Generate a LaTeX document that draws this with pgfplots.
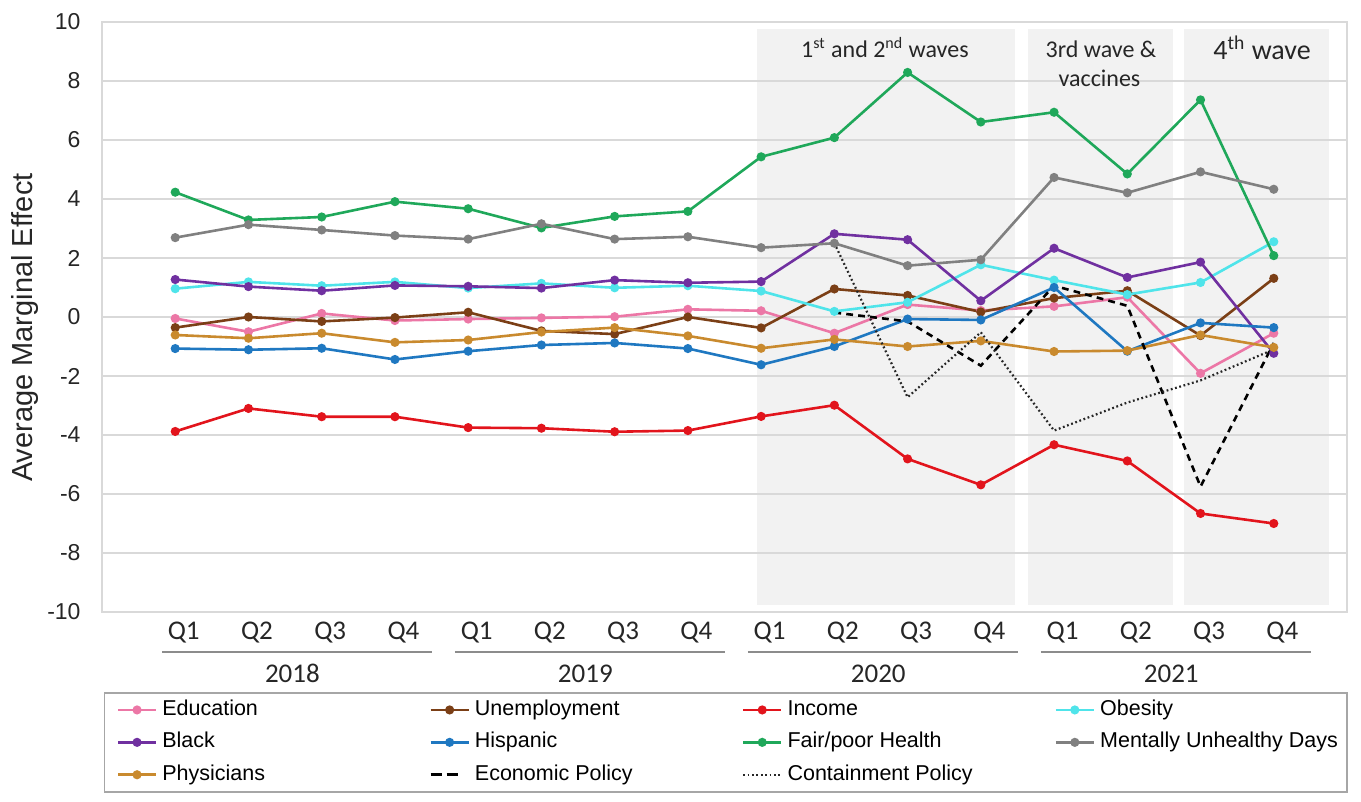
\documentclass[border=0pt]{standalone}
\usepackage{fontspec}
\setmainfont{Liberation Sans}
\newfontfamily\calibri{Carlito}
\usepackage{pgfplots}
\pgfplotsset{compat=1.18}

\definecolor{cEdu}{HTML}{EC77A6}
\definecolor{cUnemp}{HTML}{7B3F16}
\definecolor{cInc}{HTML}{E2141C}
\definecolor{cObes}{HTML}{4FE4EA}
\definecolor{cBlack}{HTML}{7030A0}
\definecolor{cHisp}{HTML}{1F78C1}
\definecolor{cFair}{HTML}{1FA85A}
\definecolor{cMent}{HTML}{808080}
\definecolor{cPhys}{HTML}{C98A2E}
\definecolor{cgrid}{HTML}{D9D9D9}
\definecolor{cshade}{HTML}{F2F2F2}

\begin{document}
\begin{tikzpicture}
\begin{axis}[
  set layers,
  scale only axis,
  width=622.5pt, height=295pt,
  xmin=-1, xmax=16, ymin=-10, ymax=10,
  clip=false,
  axis line style={cgrid, line width=0.75pt},
  ymajorgrids,
  grid style={cgrid, line width=0.75pt},
  major tick length=0pt,
  ytick={-10,-8,...,10},
  yticklabels={-10,-8,-6,-4,-2,0,2,4,6,8,10},
  yticklabel style={anchor=east, xshift=-7.2pt, text=black!85,
    font=\fontsize{11.5}{13}\selectfont},
  xtick={0,...,15},
  xticklabels={Q1,Q2,Q3,Q4,Q1,Q2,Q3,Q4,Q1,Q2,Q3,Q4,Q1,Q2,Q3,Q4},
  xticklabel style={anchor=base, yshift=-14pt, xshift=4.25pt, text=black!85,
    font=\calibri\fontsize{13.5}{15}\selectfont},
  ylabel={Average Marginal Effect},
  ylabel style={at={(axis description cs:-0.0618,0.482)}, anchor=center,
    text=black!85, font=\fontsize{14.5}{16}\selectfont},
  legend columns=4,
  legend cell align=left,
  legend style={at={(0.0016,-0.1356)}, anchor=north west,
    draw=black!35, line width=0.75pt,
    font=\fontsize{10.75}{12}\selectfont,
    inner xsep=6pt, inner ysep=0.5pt, row sep=0pt,
    nodes={inner xsep=2.5pt, inner ysep=3.1pt, text height=7.8pt, text depth=2.2pt}},
  legend image code/.code={\draw[mark repeat=2, mark phase=2]
    plot coordinates {(0pt,0pt)(9.5pt,0pt)(19pt,0pt)};},
  every axis plot/.append style={line width=1.3pt, mark=*, mark size=1.6pt},
]

\begin{pgfonlayer}{axis background}
  \fill[cshade] (axis cs:7.94,-9.76) rectangle (axis cs:11.46,9.76);
  \fill[cshade] (axis cs:11.64,-9.76) rectangle (axis cs:13.63,9.76);
  \fill[cshade] (axis cs:13.77,-9.76) rectangle (axis cs:15.76,9.76);
\end{pgfonlayer}

% Education
\addplot[cEdu] coordinates {
 (0,-0.05)(1,-0.50)(2,0.12)(3,-0.12)(4,-0.07)(5,-0.03)(6,0.01)(7,0.26)
 (8,0.21)(9,-0.55)(10,0.42)(11,0.22)(12,0.36)(13,0.67)(14,-1.91)(15,-0.55)};
% Unemployment
\addplot[cUnemp] coordinates {
 (0,-0.36)(1,0.00)(2,-0.15)(3,-0.02)(4,0.16)(5,-0.47)(6,-0.58)(7,0.00)
 (8,-0.37)(9,0.95)(10,0.73)(11,0.17)(12,0.64)(13,0.89)(14,-0.63)(15,1.31)};
% Income
\addplot[cInc] coordinates {
 (0,-3.88)(1,-3.10)(2,-3.38)(3,-3.38)(4,-3.75)(5,-3.77)(6,-3.89)(7,-3.85)
 (8,-3.37)(9,-2.99)(10,-4.81)(11,-5.69)(12,-4.33)(13,-4.88)(14,-6.66)(15,-7.00)};
% Obesity
\addplot[cObes] coordinates {
 (0,0.96)(1,1.19)(2,1.06)(3,1.19)(4,0.98)(5,1.14)(6,0.99)(7,1.06)
 (8,0.88)(9,0.19)(10,0.50)(11,1.77)(12,1.25)(13,0.76)(14,1.17)(15,2.55)};
% Black
\addplot[cBlack] coordinates {
 (0,1.27)(1,1.03)(2,0.89)(3,1.07)(4,1.04)(5,0.98)(6,1.25)(7,1.16)
 (8,1.20)(9,2.82)(10,2.62)(11,0.55)(12,2.33)(13,1.34)(14,1.86)(15,-1.23)};
% Hispanic
\addplot[cHisp] coordinates {
 (0,-1.07)(1,-1.11)(2,-1.06)(3,-1.44)(4,-1.16)(5,-0.95)(6,-0.88)(7,-1.07)
 (8,-1.62)(9,-1.00)(10,-0.07)(11,-0.10)(12,1.00)(13,-1.16)(14,-0.20)(15,-0.36)};
% Fair/poor Health
\addplot[cFair] coordinates {
 (0,4.23)(1,3.29)(2,3.39)(3,3.91)(4,3.67)(5,3.02)(6,3.41)(7,3.58)
 (8,5.43)(9,6.08)(10,8.29)(11,6.61)(12,6.94)(13,4.85)(14,7.36)(15,2.08)};
% Mentally Unhealthy Days
\addplot[cMent] coordinates {
 (0,2.69)(1,3.13)(2,2.95)(3,2.76)(4,2.64)(5,3.16)(6,2.64)(7,2.72)
 (8,2.35)(9,2.50)(10,1.74)(11,1.94)(12,4.73)(13,4.21)(14,4.92)(15,4.33)};
% Physicians
\addplot[cPhys] coordinates {
 (0,-0.61)(1,-0.72)(2,-0.55)(3,-0.86)(4,-0.78)(5,-0.51)(6,-0.36)(7,-0.64)
 (8,-1.06)(9,-0.76)(10,-1.00)(11,-0.81)(12,-1.17)(13,-1.14)(14,-0.61)(15,-1.03)};
% Economic Policy
\addplot[black, no marks, dash pattern=on 3.4pt off 2.6pt,
  legend image code/.code={\draw[dash pattern=on 5.5pt off 2.5pt] (0pt,0pt) -- (14pt,0pt);}]
 coordinates {
 (9,0.15)(10,-0.15)(11,-1.65)(12,1.06)(13,0.38)(14,-5.75)(15,-0.88)};
% Containment Policy
\addplot[black!85, no marks, line width=1.1pt, dash pattern=on 0.9pt off 1.3pt] coordinates {
 (9,2.50)(10,-2.72)(11,-0.52)(12,-3.85)(13,-2.90)(14,-2.15)(15,-1.10)};

\legend{\makebox[131pt][l]{Education}, \makebox[131pt][l]{Unemployment},
  \makebox[131pt][l]{Income}, Obesity,
  \makebox[131pt][l]{Black}, \makebox[131pt][l]{Hispanic},
  \makebox[131pt][l]{Fair/poor Health}, Mentally Unhealthy Days\hspace*{-4pt},
  \makebox[131pt][l]{Physicians}, \makebox[131pt][l]{Economic Policy},
  \makebox[131pt][l]{Containment Policy}}

% wave annotations
\begin{scope}[every node/.style={font=\calibri\fontsize{12}{14}\selectfont, text=black!85, anchor=base, inner sep=0pt}]
  \node at (axis cs:9.69,8.81) {1\textsuperscript{st} and 2\textsuperscript{nd} waves};
  \node at (axis cs:12.64,8.78) {3rd wave \&};
  \node at (axis cs:12.62,7.81) {vaccines};
  \node[font=\calibri\fontsize{14}{16}\selectfont] at (axis cs:14.84,8.72) {4\textsuperscript{th} wave};
\end{scope}

% year groups
\begin{scope}[every node/.style={font=\calibri\fontsize{13.5}{15}\selectfont, text=black!85, anchor=base, inner sep=0pt}]
  \draw[black!45, line width=0.75pt] (axis cs:-0.18,-11.35) -- (axis cs:3.51,-11.35);
  \draw[black!45, line width=0.75pt] (axis cs:3.82,-11.35) -- (axis cs:7.51,-11.35);
  \draw[black!45, line width=0.75pt] (axis cs:7.82,-11.35) -- (axis cs:11.51,-11.35);
  \draw[black!45, line width=0.75pt] (axis cs:11.82,-11.35) -- (axis cs:15.51,-11.35);
  \node at (axis cs:1.6,-12.38) {2018};
  \node at (axis cs:5.6,-12.38) {2019};
  \node at (axis cs:9.6,-12.38) {2020};
  \node at (axis cs:13.6,-12.38) {2021};
\end{scope}
\end{axis}
\pgfresetboundingbox
\path[use as bounding box] (-51pt,-95pt) rectangle (629.5pt,306pt);
\end{tikzpicture}
\end{document}
